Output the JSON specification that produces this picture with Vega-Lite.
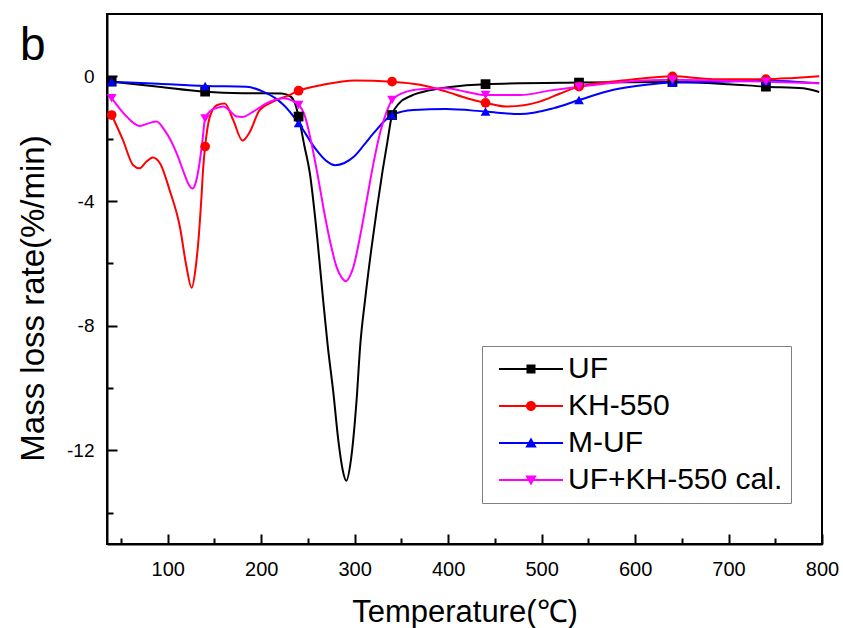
{
  "$schema": "https://vega.github.io/schema/vega-lite/v6.json",
  "width": 715,
  "height": 530,
  "autosize": "none",
  "padding": {"left": 107, "top": 14, "right": 21, "bottom": 84},
  "background": "white",
  "config": {
    "view": {"stroke": "black", "strokeWidth": 2},
    "font": "Liberation Sans"
  },
  "title": {
    "text": "b",
    "anchor": "start",
    "frame": "group",
    "fontSize": 46,
    "fontWeight": "normal",
    "font": "Liberation Sans",
    "color": "black",
    "dx": -87,
    "dy": 49,
    "offset": -43,
    "baseline": "alphabetic"
  },
  "data": {
    "values": [
      {"s": "UF", "t": 40, "v": -0.17, "m": 1},
      {"s": "UF", "t": 90, "v": -0.33, "m": 0},
      {"s": "UF", "t": 140, "v": -0.49, "m": 1},
      {"s": "UF", "t": 180, "v": -0.54, "m": 0},
      {"s": "UF", "t": 222, "v": -0.55, "m": 0},
      {"s": "UF", "t": 232, "v": -0.66, "m": 0},
      {"s": "UF", "t": 236, "v": -0.85, "m": 0},
      {"s": "UF", "t": 240, "v": -1.29, "m": 1},
      {"s": "UF", "t": 246, "v": -2.2, "m": 0},
      {"s": "UF", "t": 252, "v": -3.1, "m": 0},
      {"s": "UF", "t": 260, "v": -5.2, "m": 0},
      {"s": "UF", "t": 266, "v": -7.1, "m": 0},
      {"s": "UF", "t": 271, "v": -8.6, "m": 0},
      {"s": "UF", "t": 277, "v": -10.1, "m": 0},
      {"s": "UF", "t": 283, "v": -11.8, "m": 0},
      {"s": "UF", "t": 287, "v": -12.6, "m": 0},
      {"s": "UF", "t": 291, "v": -12.97, "m": 0},
      {"s": "UF", "t": 296, "v": -12.3, "m": 0},
      {"s": "UF", "t": 302, "v": -10.4, "m": 0},
      {"s": "UF", "t": 306, "v": -8.6, "m": 0},
      {"s": "UF", "t": 311, "v": -7.2, "m": 0},
      {"s": "UF", "t": 318, "v": -5.5, "m": 0},
      {"s": "UF", "t": 324, "v": -4.2, "m": 0},
      {"s": "UF", "t": 330, "v": -3.0, "m": 0},
      {"s": "UF", "t": 335, "v": -2.1, "m": 0},
      {"s": "UF", "t": 340, "v": -1.24, "m": 1},
      {"s": "UF", "t": 348, "v": -0.85, "m": 0},
      {"s": "UF", "t": 360, "v": -0.63, "m": 0},
      {"s": "UF", "t": 380, "v": -0.45, "m": 0},
      {"s": "UF", "t": 400, "v": -0.35, "m": 0},
      {"s": "UF", "t": 440, "v": -0.25, "m": 1},
      {"s": "UF", "t": 540, "v": -0.2, "m": 1},
      {"s": "UF", "t": 640, "v": -0.18, "m": 1},
      {"s": "UF", "t": 700, "v": -0.25, "m": 0},
      {"s": "UF", "t": 740, "v": -0.33, "m": 1},
      {"s": "UF", "t": 780, "v": -0.38, "m": 0},
      {"s": "UF", "t": 797, "v": -0.5, "m": 0},

      {"s": "KH-550", "t": 40, "v": -1.24, "m": 1},
      {"s": "KH-550", "t": 52, "v": -2.04, "m": 0},
      {"s": "KH-550", "t": 63, "v": -2.85, "m": 0},
      {"s": "KH-550", "t": 70, "v": -2.95, "m": 0},
      {"s": "KH-550", "t": 77, "v": -2.74, "m": 0},
      {"s": "KH-550", "t": 84, "v": -2.6, "m": 0},
      {"s": "KH-550", "t": 92, "v": -2.8, "m": 0},
      {"s": "KH-550", "t": 102, "v": -3.65, "m": 0},
      {"s": "KH-550", "t": 113, "v": -4.83, "m": 0},
      {"s": "KH-550", "t": 120, "v": -6.1, "m": 0},
      {"s": "KH-550", "t": 125.5, "v": -6.78, "m": 0},
      {"s": "KH-550", "t": 130, "v": -6.1, "m": 0},
      {"s": "KH-550", "t": 133, "v": -5.2, "m": 0},
      {"s": "KH-550", "t": 136, "v": -3.9, "m": 0},
      {"s": "KH-550", "t": 138, "v": -2.9, "m": 0},
      {"s": "KH-550", "t": 140, "v": -2.25, "m": 1},
      {"s": "KH-550", "t": 145, "v": -1.3, "m": 0},
      {"s": "KH-550", "t": 153, "v": -0.92, "m": 0},
      {"s": "KH-550", "t": 161, "v": -0.87, "m": 0},
      {"s": "KH-550", "t": 170, "v": -1.4, "m": 0},
      {"s": "KH-550", "t": 180, "v": -2.06, "m": 0},
      {"s": "KH-550", "t": 188, "v": -1.77, "m": 0},
      {"s": "KH-550", "t": 198, "v": -1.1, "m": 0},
      {"s": "KH-550", "t": 215, "v": -0.78, "m": 0},
      {"s": "KH-550", "t": 230, "v": -0.6, "m": 0},
      {"s": "KH-550", "t": 240, "v": -0.46, "m": 1},
      {"s": "KH-550", "t": 266, "v": -0.27, "m": 0},
      {"s": "KH-550", "t": 300, "v": -0.13, "m": 0},
      {"s": "KH-550", "t": 340, "v": -0.17, "m": 1},
      {"s": "KH-550", "t": 370, "v": -0.27, "m": 0},
      {"s": "KH-550", "t": 398, "v": -0.49, "m": 0},
      {"s": "KH-550", "t": 420, "v": -0.7, "m": 0},
      {"s": "KH-550", "t": 440, "v": -0.85, "m": 1},
      {"s": "KH-550", "t": 462, "v": -0.97, "m": 0},
      {"s": "KH-550", "t": 498, "v": -0.81, "m": 0},
      {"s": "KH-550", "t": 520, "v": -0.55, "m": 0},
      {"s": "KH-550", "t": 540, "v": -0.33, "m": 1},
      {"s": "KH-550", "t": 595, "v": -0.11, "m": 0},
      {"s": "KH-550", "t": 640, "v": 0.0, "m": 1},
      {"s": "KH-550", "t": 684, "v": -0.09, "m": 0},
      {"s": "KH-550", "t": 740, "v": -0.09, "m": 1},
      {"s": "KH-550", "t": 770, "v": -0.05, "m": 0},
      {"s": "KH-550", "t": 797, "v": 0.0, "m": 0},

      {"s": "M-UF", "t": 40, "v": -0.17, "m": 1},
      {"s": "M-UF", "t": 90, "v": -0.24, "m": 0},
      {"s": "M-UF", "t": 140, "v": -0.31, "m": 1},
      {"s": "M-UF", "t": 184, "v": -0.33, "m": 0},
      {"s": "M-UF", "t": 202, "v": -0.49, "m": 0},
      {"s": "M-UF", "t": 215, "v": -0.7, "m": 0},
      {"s": "M-UF", "t": 224, "v": -0.92, "m": 0},
      {"s": "M-UF", "t": 240, "v": -1.5, "m": 1},
      {"s": "M-UF", "t": 259, "v": -2.36, "m": 0},
      {"s": "M-UF", "t": 270, "v": -2.72, "m": 0},
      {"s": "M-UF", "t": 279, "v": -2.85, "m": 0},
      {"s": "M-UF", "t": 289, "v": -2.78, "m": 0},
      {"s": "M-UF", "t": 299, "v": -2.58, "m": 0},
      {"s": "M-UF", "t": 310, "v": -2.2, "m": 0},
      {"s": "M-UF", "t": 320, "v": -1.83, "m": 0},
      {"s": "M-UF", "t": 340, "v": -1.24, "m": 1},
      {"s": "M-UF", "t": 363, "v": -1.08, "m": 0},
      {"s": "M-UF", "t": 398, "v": -1.05, "m": 0},
      {"s": "M-UF", "t": 440, "v": -1.13, "m": 1},
      {"s": "M-UF", "t": 477, "v": -1.21, "m": 0},
      {"s": "M-UF", "t": 513, "v": -1.02, "m": 0},
      {"s": "M-UF", "t": 540, "v": -0.76, "m": 1},
      {"s": "M-UF", "t": 577, "v": -0.43, "m": 0},
      {"s": "M-UF", "t": 612, "v": -0.27, "m": 0},
      {"s": "M-UF", "t": 640, "v": -0.2, "m": 1},
      {"s": "M-UF", "t": 690, "v": -0.17, "m": 0},
      {"s": "M-UF", "t": 740, "v": -0.14, "m": 1},
      {"s": "M-UF", "t": 797, "v": -0.22, "m": 0},

      {"s": "UF+KH-550 cal.", "t": 40, "v": -0.7, "m": 1},
      {"s": "UF+KH-550 cal.", "t": 56, "v": -1.29, "m": 0},
      {"s": "UF+KH-550 cal.", "t": 70, "v": -1.59, "m": 0},
      {"s": "UF+KH-550 cal.", "t": 80, "v": -1.5, "m": 0},
      {"s": "UF+KH-550 cal.", "t": 88, "v": -1.45, "m": 0},
      {"s": "UF+KH-550 cal.", "t": 96, "v": -1.7, "m": 0},
      {"s": "UF+KH-550 cal.", "t": 103, "v": -2.04, "m": 0},
      {"s": "UF+KH-550 cal.", "t": 110, "v": -2.5, "m": 0},
      {"s": "UF+KH-550 cal.", "t": 117.5, "v": -3.11, "m": 0},
      {"s": "UF+KH-550 cal.", "t": 123, "v": -3.5, "m": 0},
      {"s": "UF+KH-550 cal.", "t": 126.4, "v": -3.6, "m": 0},
      {"s": "UF+KH-550 cal.", "t": 130, "v": -3.4, "m": 0},
      {"s": "UF+KH-550 cal.", "t": 133.4, "v": -2.9, "m": 0},
      {"s": "UF+KH-550 cal.", "t": 137, "v": -2.1, "m": 0},
      {"s": "UF+KH-550 cal.", "t": 140, "v": -1.35, "m": 1},
      {"s": "UF+KH-550 cal.", "t": 146, "v": -1.1, "m": 0},
      {"s": "UF+KH-550 cal.", "t": 152, "v": -1.02, "m": 0},
      {"s": "UF+KH-550 cal.", "t": 159.5, "v": -0.97, "m": 0},
      {"s": "UF+KH-550 cal.", "t": 166, "v": -1.1, "m": 0},
      {"s": "UF+KH-550 cal.", "t": 174, "v": -1.29, "m": 0},
      {"s": "UF+KH-550 cal.", "t": 180, "v": -1.3, "m": 0},
      {"s": "UF+KH-550 cal.", "t": 191.5, "v": -1.13, "m": 0},
      {"s": "UF+KH-550 cal.", "t": 206, "v": -0.86, "m": 0},
      {"s": "UF+KH-550 cal.", "t": 224, "v": -0.7, "m": 0},
      {"s": "UF+KH-550 cal.", "t": 240, "v": -0.92, "m": 1},
      {"s": "UF+KH-550 cal.", "t": 247, "v": -1.3, "m": 0},
      {"s": "UF+KH-550 cal.", "t": 253, "v": -2.04, "m": 0},
      {"s": "UF+KH-550 cal.", "t": 260, "v": -3.1, "m": 0},
      {"s": "UF+KH-550 cal.", "t": 266.4, "v": -4.19, "m": 0},
      {"s": "UF+KH-550 cal.", "t": 273, "v": -5.2, "m": 0},
      {"s": "UF+KH-550 cal.", "t": 280.7, "v": -6.12, "m": 0},
      {"s": "UF+KH-550 cal.", "t": 286, "v": -6.45, "m": 0},
      {"s": "UF+KH-550 cal.", "t": 290.7, "v": -6.57, "m": 0},
      {"s": "UF+KH-550 cal.", "t": 295, "v": -6.4, "m": 0},
      {"s": "UF+KH-550 cal.", "t": 298.6, "v": -6.12, "m": 0},
      {"s": "UF+KH-550 cal.", "t": 306, "v": -5.1, "m": 0},
      {"s": "UF+KH-550 cal.", "t": 312.9, "v": -3.97, "m": 0},
      {"s": "UF+KH-550 cal.", "t": 320, "v": -2.8, "m": 0},
      {"s": "UF+KH-550 cal.", "t": 327, "v": -1.83, "m": 0},
      {"s": "UF+KH-550 cal.", "t": 334, "v": -1.15, "m": 0},
      {"s": "UF+KH-550 cal.", "t": 340, "v": -0.76, "m": 1},
      {"s": "UF+KH-550 cal.", "t": 355.6, "v": -0.49, "m": 0},
      {"s": "UF+KH-550 cal.", "t": 370, "v": -0.41, "m": 0},
      {"s": "UF+KH-550 cal.", "t": 398, "v": -0.38, "m": 0},
      {"s": "UF+KH-550 cal.", "t": 420, "v": -0.5, "m": 0},
      {"s": "UF+KH-550 cal.", "t": 440, "v": -0.6, "m": 1},
      {"s": "UF+KH-550 cal.", "t": 477, "v": -0.6, "m": 0},
      {"s": "UF+KH-550 cal.", "t": 510, "v": -0.45, "m": 0},
      {"s": "UF+KH-550 cal.", "t": 540, "v": -0.33, "m": 1},
      {"s": "UF+KH-550 cal.", "t": 590, "v": -0.17, "m": 0},
      {"s": "UF+KH-550 cal.", "t": 640, "v": -0.11, "m": 1},
      {"s": "UF+KH-550 cal.", "t": 690, "v": -0.14, "m": 0},
      {"s": "UF+KH-550 cal.", "t": 740, "v": -0.17, "m": 1},
      {"s": "UF+KH-550 cal.", "t": 797, "v": -0.22, "m": 0}
    ]
  },
  "layer": [
    {
      "mark": {"type": "line", "interpolate": "monotone", "strokeWidth": 2},
      "encoding": {
        "x": {
          "field": "t", "type": "quantitative",
          "scale": {"domain": [35, 800], "nice": false, "zero": false},
          "axis": {
            "orient": "bottom",
            "values": [100, 200, 300, 400, 500, 600, 700, 800],
            "grid": false,
            "tickSize": -10, "tickWidth": 2, "tickColor": "black",
            "domainColor": "black", "domainWidth": 2,
            "labelFontSize": 20, "labelColor": "black", "labelFont": "Liberation Sans",
            "labelBaseline": "alphabetic", "labelPadding": 41,
            "labelFlush": false, "labelOverlap": false,
            "title": "Temperature(℃)",
            "titleFontSize": 31, "titleFontWeight": "normal", "titleColor": "black", "titleFont": "Liberation Sans",
            "titleBaseline": "alphabetic", "titleY": 77
          }
        },
        "y": {
          "field": "v", "type": "quantitative",
          "scale": {"domain": [-15, 2], "nice": false, "zero": false},
          "axis": {
            "orient": "left",
            "values": [0, -4, -8, -12],
            "labelExpr": "toString(datum.value)",
            "grid": false,
            "tickSize": -10, "tickWidth": 2, "tickColor": "black",
            "domainColor": "black", "domainWidth": 2,
            "labelFontSize": 19, "labelColor": "black", "labelFont": "Liberation Sans",
            "labelPadding": 23, "labelFlush": false, "labelOverlap": false,
            "title": "Mass loss rate(%/min)",
            "titleFontSize": 33, "titleFontWeight": "normal", "titleColor": "black", "titleFont": "Liberation Sans",
            "titleBaseline": "alphabetic", "titleX": -64, "titleY": 284, "titleAngle": -90, "titleAlign": "center"
          }
        },
        "color": {
          "field": "s", "type": "nominal",
          "scale": {"domain": ["UF", "KH-550", "M-UF", "UF+KH-550 cal."], "range": ["#000000", "#ff0000", "#0000ff", "#ff00ff"]},
          "legend": null
        }
      }
    },
    {
      "transform": [{"filter": "datum.m == 1"}],
      "mark": {"type": "point", "filled": true, "size": 95, "opacity": 1},
      "encoding": {
        "x": {
          "field": "t", "type": "quantitative",
          "scale": {"domain": [35, 800], "nice": false, "zero": false},
          "axis": {
            "orient": "bottom",
            "values": [50, 150, 250, 350, 450, 550, 650, 750],
            "grid": false, "labels": false, "domain": false, "title": null,
            "tickSize": -6, "tickWidth": 2, "tickColor": "black"
          }
        },
        "y": {
          "field": "v", "type": "quantitative",
          "scale": {"domain": [-15, 2], "nice": false, "zero": false},
          "axis": {
            "orient": "left",
            "values": [-2, -6, -10, -14],
            "grid": false, "labels": false, "domain": false, "title": null,
            "tickSize": -6, "tickWidth": 2, "tickColor": "black"
          }
        },
        "color": {
          "field": "s", "type": "nominal",
          "scale": {"domain": ["UF", "KH-550", "M-UF", "UF+KH-550 cal."], "range": ["#000000", "#ff0000", "#0000ff", "#ff00ff"]},
          "legend": null
        },
        "shape": {
          "field": "s", "type": "nominal",
          "scale": {"domain": ["UF", "KH-550", "M-UF", "UF+KH-550 cal."], "range": ["square", "circle", "triangle-up", "triangle-down"]},
          "legend": null
        }
      }
    },
    {
      "transform": [{"filter": "datum.m == 99"}],
      "mark": {"type": "point", "filled": true, "size": 100, "opacity": 1},
      "encoding": {
        "x": {"field": "t", "type": "quantitative", "scale": {"domain": [35, 800], "nice": false, "zero": false}, "axis": null},
        "y": {"field": "v", "type": "quantitative", "scale": {"domain": [-15, 2], "nice": false, "zero": false}, "axis": null},
        "color": {
          "field": "s", "type": "nominal",
          "scale": {"domain": ["UF", "KH-550", "M-UF", "UF+KH-550 cal."], "range": ["#000000", "#ff0000", "#0000ff", "#ff00ff"]},
          "legend": {
            "title": null, "orient": "none", "legendX": 375, "legendY": 332,
            "padding": 8, "strokeColor": "#808080", "fillColor": "white",
            "labelFontSize": 30, "labelFont": "Liberation Sans", "labelColor": "black", "labelLimit": 500,
            "symbolSize": 100, "symbolOffset": 26, "labelOffset": 22, "rowPadding": 7,
            "symbolStrokeWidth": 0
          }
        },
        "shape": {
          "field": "s", "type": "nominal",
          "scale": {
            "domain": ["UF", "KH-550", "M-UF", "UF+KH-550 cal."],
            "range": [
              "M-6.4,-0.2H6.4V0.2H-6.4Z M-0.9,-0.9H0.9V0.9H-0.9Z",
              "M-6.4,-0.2H6.4V0.2H-6.4Z M-1,0A1,1,0,1,1,1,0A1,1,0,1,1,-1,0Z",
              "M-6.4,-0.2H6.4V0.2H-6.4Z M0,-1.1L1.15,0.9L-1.15,0.9Z",
              "M-6.4,-0.2H6.4V0.2H-6.4Z M0,1.1L-1.15,-0.9L1.15,-0.9Z"
            ]
          },
          "legend": {
            "title": null, "orient": "none", "legendX": 375, "legendY": 332,
            "padding": 8, "strokeColor": "#808080", "fillColor": "white",
            "labelFontSize": 30, "labelFont": "Liberation Sans", "labelColor": "black", "labelLimit": 500,
            "symbolSize": 100, "symbolOffset": 26, "labelOffset": 22, "rowPadding": 7,
            "symbolStrokeWidth": 0
          }
        }
      }
    }
  ],
  "resolve": {
    "scale": {"color": "independent", "shape": "independent"},
    "axis": {"x": "independent", "y": "independent"}
  }
}
